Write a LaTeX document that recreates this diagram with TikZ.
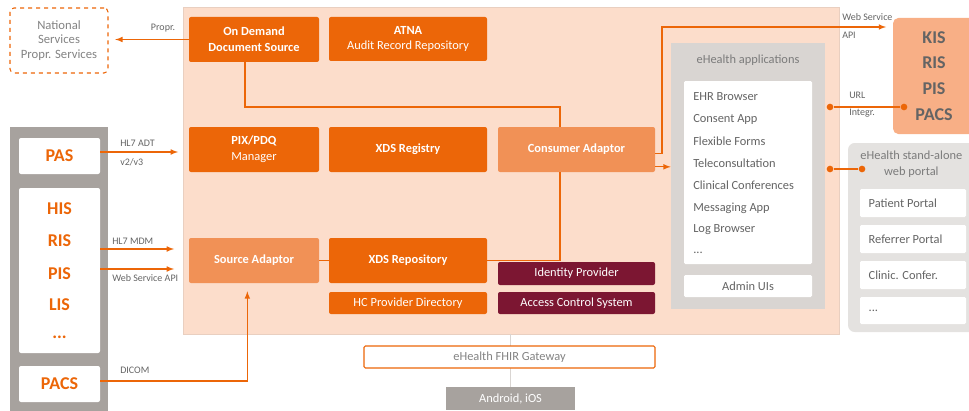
\documentclass[tikz,border=0pt]{standalone}
\usepackage{fontspec}
\setmainfont{Carlito}
\usetikzlibrary{fit,positioning}

\definecolor{ehorange}{HTML}{EC6608}
\definecolor{ehlight}{HTML}{F19156}
\definecolor{ehpeach}{HTML}{FCDDCB}
\definecolor{ehsalmon}{HTML}{F8AF86}
\definecolor{ehwine}{HTML}{7C1632}
\definecolor{ehgray}{HTML}{A7A29E}
\definecolor{ehpale}{HTML}{D9D5D2}
\definecolor{ehportal}{HTML}{E4E2E0}
\definecolor{ehtext}{HTML}{646464}

\newcommand{\ehdots}{...}

\tikzset{boxsize/.style 2 args={minimum width=#1*0.75pt, minimum height=#2*0.75pt}}

\begin{document}
\begin{tikzpicture}[x=0.75pt,y=-0.75pt,>=latex]
	% Shared looks for this sheet
	\tikzstyle{every node}=[inner sep=0pt, font=\fontsize{9.3}{11.8}\selectfont]
	\tikzstyle{block}=[rounded corners=1.5pt, text=white, align=center]
	\tikzstyle{core}=[block, fill=ehorange]
	\tikzstyle{adaptor}=[block, fill=ehlight]
	\tikzstyle{secure}=[block, fill=ehwine]
	\tikzstyle{whitebox}=[rounded corners=1.5pt, fill=white]
	\tikzstyle{sysname}=[text=ehorange, font=\fontsize{13.5}{15}\selectfont\bfseries]
	\tikzstyle{itemtext}=[text=ehtext, anchor=west]
	\tikzstyle{lbl}=[text=ehtext, anchor=west, font=\fontsize{7.5}{8}\selectfont]
	\tikzstyle{link}=[draw=ehorange, line width=0.9pt]
	\tikzstyle{dot}=[circle, fill=ehorange, minimum size=5pt]

	\useasboundingbox (0,0) rectangle (969,410);
	\clip (0,0) rectangle (969,410);

	% the platform area
	\node[fill=ehpeach, draw=ehpeach!85!gray, line width=0.3pt, fit={(183,7) (839,334)}] (platform) {};

	% core services
	\node[core, boxsize={130}{45}] (ondemand) at (254,39.5) {\textbf{On Demand}\\\textbf{Document Source}};
	\node[core, boxsize={158}{44}] (atna) at (408,39) {\textbf{ATNA}\\Audit Record Repository};
	\node[core, boxsize={130}{45}] (pix) at (254,149.5) {\textbf{PIX/PDQ}\\Manager};
	\node[core, boxsize={158}{45}] (registry) at (408,149.5) {\textbf{XDS Registry}};
	\node[adaptor, boxsize={157}{45}] (consumer) at (576.5,149.5) {\textbf{Consumer Adaptor}};
	\node[adaptor, boxsize={130}{45}] (source) at (254,260.5) {\textbf{Source Adaptor}};
	\node[core, boxsize={158}{45}] (repository) at (408,260.5) {\textbf{XDS Repository}};
	\node[core, boxsize={158}{22}] (hpd) at (408,303) {HC Provider Directory};
	\node[secure, boxsize={157}{23}] (idp) at (576.5,273.5) {Identity Provider};
	\node[secure, boxsize={157}{22}] (acs) at (576.5,303) {Access Control System};

	% gateway and mobile clients
	\node[fill=ehgray, text=white, boxsize={129}{23}] (mobile) at (510.5,398.5) {Android, iOS};
	\draw[ehpale, line width=0.8pt] (mobile.north) -- (mobile.north |- platform.south);
	\node[fill=white, draw=ehorange, line width=0.8pt, rounded corners=1pt, text=ehtext!80!white,
		boxsize={291}{22}] (gateway) at (509.5,357) {eHealth FHIR Gateway};

	% national services
	\node[draw=ehorange, dashed, line width=0.8pt, rounded corners=3pt, text=ehtext!80!white, align=center,
		font=\fontsize{9.5}{11}\selectfont, boxsize={98}{65}] (national) at (59,40.5) {National\\Services\\Propr. Services};

	% hospital systems on the left
	\node[fill=ehgray, fit={(10,127) (108,414)}] (hospital) {};
	\node[whitebox, sysname, boxsize={81}{36}] (pas) at (59.5,156) {PAS};
	\node[whitebox, fit={(19,188) (100,353)}] (his) {};
	\foreach \sys/\ypos [count=\i] in {HIS/209, RIS/241, PIS/274, LIS/305, \ehdots/337}
		\node[sysname] (sys\i) at (59.5,\ypos) {\sys};
	\node[whitebox, sysname, boxsize={81}{36}] (pacs) at (59.5,384) {PACS};

	% eHealth applications
	\node[fill=ehpale, fit={(671,43) (825,309)}] (apps) {};
	\node[text=ehtext!85!white, below=9pt of apps.north] (appstitle) {eHealth applications};
	\node[whitebox, rounded corners=1pt, fit={(684,81) (812,264)}] (applist) {};
	\foreach \app/\ypos [count=\i] in {EHR Browser/97, Consent App/119, Flexible Forms/141,
		Teleconsultation/163.5, Clinical Conferences/185.5, Messaging App/208, Log Browser/230, \ehdots/253}
		\node[itemtext] (app\i) at (693,\ypos) {\app};
	\node[whitebox, rounded corners=1pt, text=ehtext, boxsize={128}{22}] (admin) at (748,286) {Admin UIs};

	% external systems on the right
	\node[fill=ehsalmon, rounded corners=4pt, text=ehtext, align=center,
		font=\fontsize{13.5}{19.3}\selectfont\bfseries, boxsize={82}{116}] (kis) at (934,76) {KIS\\RIS\\PIS\\PACS};
	\node[fill=ehportal, rounded corners=5pt, fit={(848,143) (980,332)}] (portal) {};
	\node[text=ehtext!85!white, align=center, font=\fontsize{9.3}{12}\selectfont, below=6pt of portal.north,
		xshift=-2pt] (portaltitle) {eHealth stand-alone\\web portal};
	\foreach \ptext/\ytop/\ybot [count=\i] in {Patient Portal/189/217, Referrer Portal/225/253,
		Clinic. Confer./261/289, \ehdots/297/324} {
		\node[whitebox, rounded corners=1pt, fit={(860,\ytop) (966,\ybot)}] (pitem\i) {};
		\node[itemtext] at ([xshift=6.5pt]pitem\i.west) {\ptext};
	}

	% connectors inside the platform
	\coordinate (bend) at (560,107);
	\draw[link] ([xshift=-6.75pt]ondemand.south) |- (bend) -- (bend |- consumer.north);
	\draw[link] (bend |- consumer.south) |- (repository.east);
	\draw[link] (source.east) -- (repository.west);

	% connectors to the right
	\coordinate (apiturn) at (662,27);
	\draw[link,->] ([yshift=-3pt]consumer.east) -| (apiturn) -- ([xshift=-5pt]apiturn -| kis.west);
	\draw[link,->] ([yshift=-13pt]consumer.east) -- ([yshift=-13pt]consumer.east -| apps.west);
	\node[lbl] (wslbl) at (842,17) {Web Service};
	\node[lbl] (apilbl) at (842,35) {API};
	\node[dot] (urlA) at (830,107) {};
	\node[dot] (urlB) at (904,107) {};
	\draw[link] (urlA) -- (urlB);
	\node[lbl] (urllbl) at (849,95) {URL};
	\node[lbl] (intlbl) at (849,113) {Integr.};
	\node[dot] (webA) at (830,169) {};
	\node[dot] (webB) at (862,169) {};
	\draw[link] (webA) -- (webB);

	% connectors to the left
	\draw[link,->,shorten >=5pt] (ondemand.west) -- (ondemand.west -| national.east);
	\node[lbl, anchor=center] (proprlbl) at (163,28) {Propr.};
	\draw[link,->,shorten >=8pt] (pas.east |- 0,152) -- (pix.west |- 0,152);
	\node[lbl] (adtlbl) at (120,143) {HL7 ADT};
	\node[lbl] (verlbl) at (120,162) {v2/v3};
	\draw[link,->,shorten >=11pt] (his.east |- 0,249) -- (source.west |- 0,249);
	\node[lbl] (mdmlbl) at (112,241) {HL7 MDM};
	\draw[link,->,shorten >=11pt] (his.east |- 0,269) -- (source.west |- 0,269);
	\node[lbl] (wsapilbl) at (112,278) {Web Service API};
	\draw[link,->,shorten >=6pt] (pacs.east |- 0,381) -| ([xshift=-5pt]source.south);
	\node[lbl] (dicomlbl) at (120,370) {DICOM};
\end{tikzpicture}
\end{document}
